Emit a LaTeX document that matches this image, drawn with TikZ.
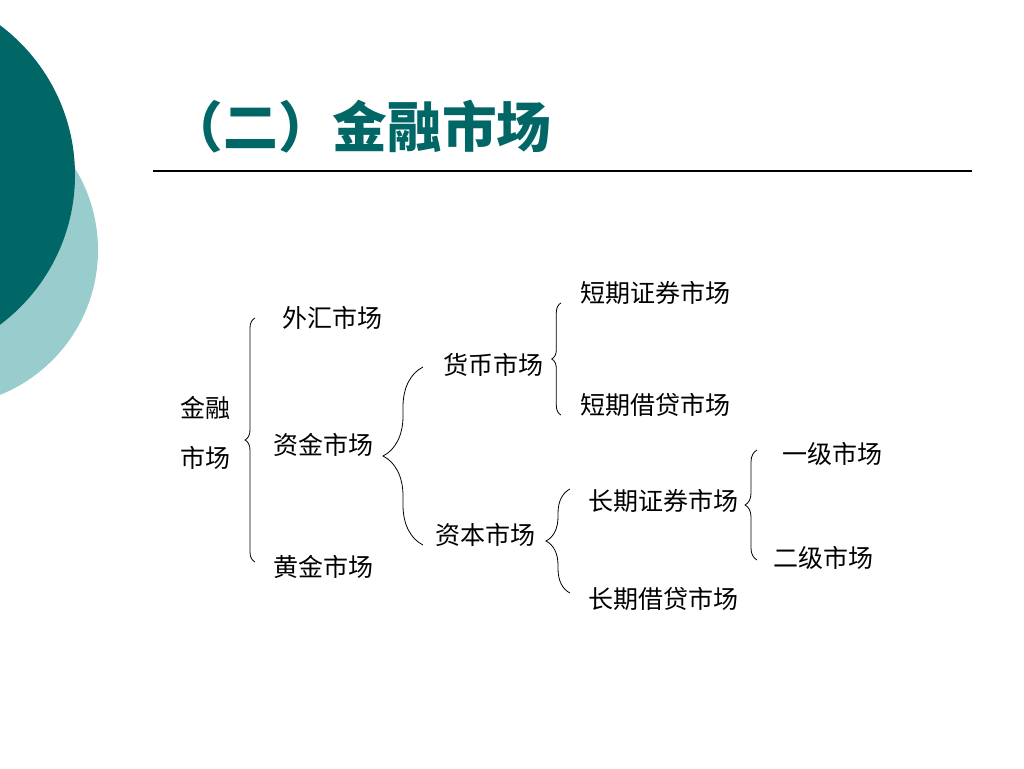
\documentclass[tikz,border=0pt]{standalone}
\usepackage{fontspec}
\newfontfamily\cjk{Noto Sans CJK SC}
\usetikzlibrary{decorations.pathreplacing}
\definecolor{tealdark}{RGB}{0,102,102}
\definecolor{teallight}{RGB}{153,204,204}

\begin{document}
\begin{tikzpicture}[x=0.75pt,y=-0.75pt,
   mkt/.style={inner sep=0pt,font=\cjk\fontsize{18.75}{38}\selectfont},
   brc/.style={decorate,decoration={brace,amplitude=#1},line width=0.6pt}]

   \useasboundingbox (0,0) rectangle (1024,768);

   % Circles
      \begin{scope}
         \clip (0,0) rectangle (1024,768);
         \fill[teallight] (-58,250) circle (156);
         \fill[tealdark]  (-112,175) circle (187);
      \end{scope}

   % Title
      \node[inner sep=0pt,text=tealdark,font=\cjk\bfseries\fontsize{41}{48}\selectfont] (title) at (360,127) {（二）金融市场};
      \coordinate (ruleL) at (153,171);
      \coordinate (ruleR) at (972,171);
      \draw[line width=1pt] (ruleL) -- (ruleR);

   % Nodes
      \node[mkt,align=center] (jr)   at (205,433) {金融\\市场};
      \node[mkt]              (wh)   at (332,318) {外汇市场};
      \node[mkt]              (zj)   at (323,445) {资金市场};
      \node[mkt]              (hj)   at (323,567) {黄金市场};
      \node[mkt]              (hb)   at (493,365) {货币市场};
      \node[mkt]              (zb)   at (485,535) {资本市场};
      \node[mkt]              (dqzq) at (655,293) {短期证券市场};
      \node[mkt]              (dqjd) at (655,405) {短期借贷市场};
      \node[mkt]              (cqzq) at (663,501) {长期证券市场};
      \node[mkt]              (cqjd) at (663,599) {长期借贷市场};
      \node[mkt]              (yj)   at (832,454) {一级市场};
      \node[mkt]              (ej)   at (823,558) {二级市场};

   % Brace ends
      \coordinate (jrT) at (255,318);  \coordinate (jrB) at (255,562);
      \coordinate (zjT) at (423,367);  \coordinate (zjB) at (423,545);
      \coordinate (hbT) at (561,303);  \coordinate (hbB) at (561,415);
      \coordinate (zbT) at (570,489);  \coordinate (zbB) at (570,593);
      \coordinate (cqT) at (757,450);  \coordinate (cqB) at (757,560);

   % Paths
      \draw[brc=7.5pt] (jrB) -- (jrT);
      \draw[brc=30pt]  (zjB) -- (zjT);
      \draw[brc=7pt]   (hbB) -- (hbT);
      \draw[brc=18pt]  (zbB) -- (zbT);
      \draw[brc=9pt]   (cqB) -- (cqT);
\end{tikzpicture}
\end{document}
